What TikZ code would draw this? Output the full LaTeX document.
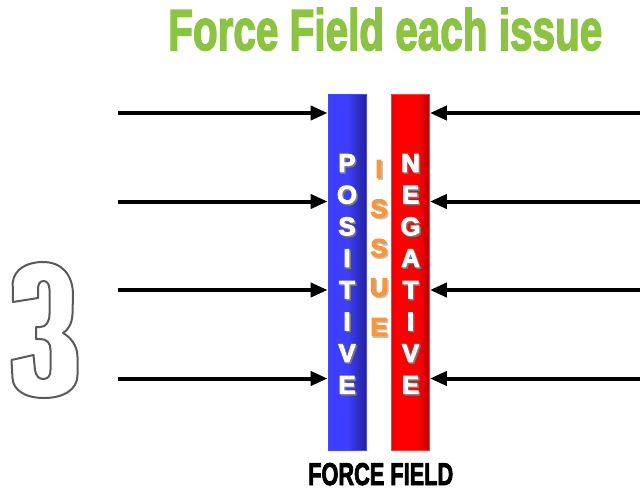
\documentclass[tikz,border=0pt]{standalone}
\usepackage{fontspec}
\setmainfont{Liberation Sans}
\newfontfamily\heavysans{Liberation Sans Bold}[FakeBold=3]
\newfontfamily\lettersans{Liberation Sans Bold}[FakeBold=4]
\usepackage{graphicx}
\usetikzlibrary{arrows.meta}

\definecolor{titlegreen}{RGB}{139,197,64}
\definecolor{issueorange}{RGB}{250,150,55}
\definecolor{digitgray}{RGB}{90,90,90}
\definecolor{letshadow}{RGB}{120,120,120}
\definecolor{bluedk}{RGB}{40,40,175}
\definecolor{bluelt}{RGB}{62,62,255}
\definecolor{bluend}{RGB}{18,18,95}
\definecolor{reddk}{RGB}{170,0,0}
\definecolor{redlt}{RGB}{255,0,0}
\definecolor{rednd}{RGB}{100,0,0}

\pgfdeclarehorizontalshading{bluebar}{100bp}{color(0bp)=(bluedk); color(6bp)=(bluedk); color(28bp)=(bluelt); color(50bp)=(bluelt); color(90bp)=(bluend); color(100bp)=(bluend)}
\pgfdeclarehorizontalshading{redbar}{100bp}{color(0bp)=(reddk); color(6bp)=(reddk); color(32bp)=(redlt); color(60bp)=(redlt); color(92bp)=(rednd); color(100bp)=(rednd)}

\tikzset{
  bar/.style={rectangle, inner sep=0pt, minimum width=38pt, minimum height=356pt, line width=0.8pt, shade},
  barletter/.style={inner sep=0pt, font=\lettersans\fontsize{25.5}{26}\selectfont},
  force/.style={line width=4pt, -{Triangle[length=17pt,width=14pt]}},
}

\begin{document}
\begin{tikzpicture}[x=1pt,y=1pt,yscale=-1,xscale=1]
\useasboundingbox (0,0) rectangle (642,493);

% Title
\node (title) [anchor=base west][inner sep=0pt][text=titlegreen] at (168,50) {\resizebox{434pt}{42pt}{\heavysans Force Field each issue}};

% Bars
\node (pos) [bar, shading=bluebar, draw={rgb,255:red,70;green,70;blue,255}] at (347,272) {};
\node (neg) [bar, shading=redbar, draw={rgb,255:red,255;green,60;blue,60}] at (410.5,272) {};

% Bar letters
\foreach \ch [count=\i from 0] in {P,O,S,I,T,I,V,E}{
  \node [barletter, text=letshadow] at (348.5,164.5+31.7*\i) {\ch};
  \node (pos-\i) [barletter, text=white] at (347,163+31.7*\i) {\ch};
}
\foreach \ch [count=\i from 0] in {N,E,G,A,T,I,V,E}{
  \node [barletter, text=letshadow] at (412,164.5+31.7*\i) {\ch};
  \node (neg-\i) [barletter, text=white] at (410.5,163+31.7*\i) {\ch};
}
\foreach \ch [count=\i from 0] in {I,S,S,U,E}{
  \node [barletter, text=letshadow!45] at (380.5,170.5+39.5*\i) {\ch};
  \node (iss-\i) [barletter, text=issueorange] at (379,169+39.5*\i) {\ch};
}

% Forces
\foreach \y [count=\i] in {113,201.5,290,378.5}{
  \coordinate (l\i) at (118,\y);
  \coordinate (r\i) at (640,\y);
  \draw [force] (l\i) -- (pos.west |- l\i);
  \draw [force] (r\i) -- (neg.east |- r\i);
}

% Outlined digit
\draw [digitgray, fill=white, line width=2pt, line join=round]
  (12.7,283) .. controls (14,269) and (27,262) .. (43,262)
  .. controls (62,262) and (73,275) .. (73,295) -- (72.5,314)
  .. controls (72,324) and (68,330) .. (63,333)
  .. controls (70,337) and (77.5,345) .. (77.5,357) -- (77.5,375)
  .. controls (77.5,390) and (63,398) .. (44,398)
  .. controls (25,398) and (13,390) .. (12.5,378) -- (11.5,360) -- (33.5,355)
  -- (35,370) .. controls (36,376) and (39,379) .. (43,379)
  .. controls (48,379) and (50.5,376) .. (50.5,370) -- (50.5,350)
  .. controls (50.5,343) and (47,339) .. (40,339) -- (36,339) -- (36,327) -- (40,327)
  .. controls (46,327) and (49.5,322) .. (49.5,314) -- (49.5,290)
  .. controls (49.5,284) and (47,281) .. (43.5,281)
  .. controls (40,281) and (38,284) .. (38,289) -- (38,298) -- (13,302) -- cycle;

% Caption
\node (caption) [anchor=base west][inner sep=0pt] at (308,485) {\resizebox{145pt}{22pt}{\heavysans FORCE FIELD}};

\end{tikzpicture}
\end{document}
